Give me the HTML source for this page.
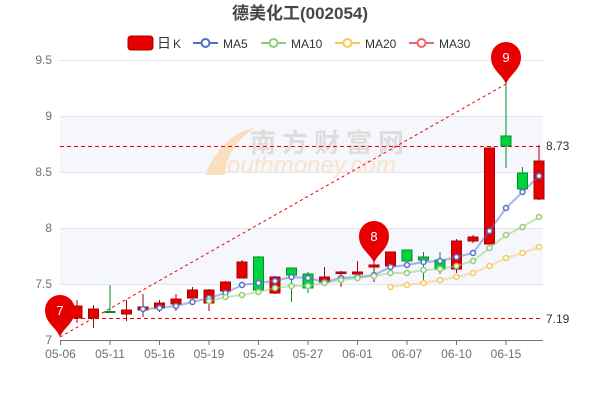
<!DOCTYPE html>
<html><head><meta charset="utf-8"><style>body{margin:0;background:#fff}svg{display:block;font-family:"Liberation Sans","Noto Sans CJK SC",sans-serif}</style></head><body>
<svg width="600" height="400" viewBox="0 0 600 400">
<rect x="60" y="116" width="483" height="56" fill="#f5f7fc"/>
<rect x="60" y="228" width="483" height="56" fill="#f5f7fc"/>
<g stroke="#e0e6f1" stroke-width="1">
<line x1="60" x2="543" y1="60.5" y2="60.5"/><line x1="60" x2="543" y1="116.5" y2="116.5"/><line x1="60" x2="543" y1="172.5" y2="172.5"/><line x1="60" x2="543" y1="228.5" y2="228.5"/><line x1="60" x2="543" y1="284.5" y2="284.5"/>
</g>
<line x1="60" x2="543" y1="340.5" y2="340.5" stroke="#6e7079"/>
<g stroke="#6e7079"><line x1="60.5" x2="60.5" y1="340" y2="345"/><line x1="110" x2="110" y1="340" y2="345"/><line x1="159.5" x2="159.5" y1="340" y2="345"/><line x1="209" x2="209" y1="340" y2="345"/><line x1="258.5" x2="258.5" y1="340" y2="345"/><line x1="308" x2="308" y1="340" y2="345"/><line x1="357.5" x2="357.5" y1="340" y2="345"/><line x1="407" x2="407" y1="340" y2="345"/><line x1="456.5" x2="456.5" y1="340" y2="345"/><line x1="506" x2="506" y1="340" y2="345"/></g>
<g fill="#6e7079" font-size="12" text-anchor="end"><text x="52" y="64">9.5</text><text x="52" y="120">9</text><text x="52" y="176">8.5</text><text x="52" y="232">8</text><text x="52" y="288">7.5</text><text x="52" y="344">7</text></g>
<g fill="#6e7079" font-size="12" text-anchor="middle"><text x="60.5" y="358">05-06</text><text x="110" y="358">05-11</text><text x="159.5" y="358">05-16</text><text x="209" y="358">05-19</text><text x="258.5" y="358">05-24</text><text x="308" y="358">05-27</text><text x="357.5" y="358">06-01</text><text x="407" y="358">06-07</text><text x="456.5" y="358">06-10</text><text x="506" y="358">06-15</text></g>
<!-- watermark -->
<text x="250" y="152" font-size="26" fill="#ddd" font-weight="bold" letter-spacing="6">南方财富网</text>
<text x="215" y="173" font-size="24" fill="#f8e4cc" font-style="italic">southmoney.com</text>
<path d="M205,175 C215,150 235,130 255,128 C235,140 225,160 225,175 Z" fill="#f9dfc0"/>
<!-- dashed lines -->
<line x1="60" x2="543" y1="146.5" y2="146.5" stroke="#e00" stroke-dasharray="4,3"/>
<line x1="60" x2="543" y1="318.5" y2="318.5" stroke="#e00" stroke-dasharray="4,3"/>
<line x1="60" y1="337" x2="506" y2="84" stroke="#e00" stroke-dasharray="3,3"/>
<text x="546" y="150" font-size="12" fill="#333">8.73</text>
<text x="546" y="323" font-size="12" fill="#333">7.19</text>
<!-- candles -->
<g stroke-width="1">
<g stroke="#a00" fill="#e60000">
<line x1="60.5" x2="60.5" y1="300" y2="322"/><rect x="55.5" y="307" width="10" height="11"/>
<line x1="77" x2="77" y1="300" y2="323"/><rect x="72" y="306" width="10" height="12"/>
<line x1="93.5" x2="93.5" y1="305" y2="328"/><rect x="88.5" y="309" width="10" height="9"/>
<line x1="126.5" x2="126.5" y1="300" y2="321"/><rect x="121.5" y="310" width="10" height="4"/>
<line x1="143" x2="143" y1="294" y2="317"/><rect x="138" y="307" width="10" height="3"/>
<line x1="159.5" x2="159.5" y1="300" y2="312"/><rect x="154.5" y="303" width="10" height="5"/>
<line x1="176" x2="176" y1="294" y2="311"/><rect x="171" y="299" width="10" height="5"/>
<line x1="192.5" x2="192.5" y1="287" y2="298"/><rect x="187.5" y="290" width="10" height="8"/>
<line x1="209" x2="209" y1="289" y2="311"/><rect x="204" y="290" width="10" height="13"/>
<line x1="225.5" x2="225.5" y1="281" y2="291"/><rect x="220.5" y="282" width="10" height="9"/>
<line x1="242" x2="242" y1="260" y2="278"/><rect x="237" y="262" width="10" height="16"/>
<line x1="275" x2="275" y1="276" y2="294"/><rect x="270" y="277" width="10" height="16"/>
<line x1="324.5" x2="324.5" y1="267" y2="282"/><rect x="319.5" y="277" width="10" height="5"/>
<line x1="341" x2="341" y1="271" y2="287"/><rect x="336" y="272" width="10" height="1.5"/>
<line x1="357.5" x2="357.5" y1="261" y2="274"/><rect x="352.5" y="272" width="10" height="2"/>
<line x1="374" x2="374" y1="261" y2="282"/><rect x="369" y="265" width="10" height="2"/>
<rect x="385.5" y="252" width="10" height="14"/>
<line x1="456.5" x2="456.5" y1="239" y2="273"/><rect x="451.5" y="241" width="10" height="28"/>
<line x1="473" x2="473" y1="235" y2="243"/><rect x="468" y="237" width="10" height="4"/>
<rect x="484.5" y="148" width="10" height="96"/>
<line x1="539" x2="539" y1="145" y2="200"/><rect x="534" y="161" width="10" height="38"/>
</g>
<g stroke="#008f28" fill="#00d43c">
<line x1="110" x2="110" y1="285" y2="312"/><rect x="105" y="311.5" width="10" height="1"/>
<line x1="258.5" x2="258.5" y1="256" y2="291"/><rect x="253.5" y="257" width="10" height="33"/>
<line x1="291.5" x2="291.5" y1="268" y2="302"/><rect x="286.5" y="268" width="10" height="7"/>
<line x1="308" x2="308" y1="272" y2="293"/><rect x="303" y="274" width="10" height="14"/>
<rect x="402" y="250" width="10" height="11"/>
<line x1="423.5" x2="423.5" y1="252" y2="280"/><rect x="418.5" y="257" width="10" height="3"/>
<line x1="440" x2="440" y1="252" y2="274"/><rect x="435" y="260" width="10" height="9"/>
<line x1="506" x2="506" y1="83" y2="168"/><rect x="501" y="136" width="10" height="10"/>
<line x1="522.5" x2="522.5" y1="167" y2="189"/><rect x="517.5" y="173" width="10" height="16"/>
</g></g>
<!-- MA lines -->
<g fill="none" stroke-width="2" stroke-opacity="0.5" stroke-linejoin="round">
<polyline stroke="#5470c6" points="143,309 159.5,308 176,306 192.5,302 209,298 225.5,293 242,285 258.5,283 275,281 291.5,277 308,278 324.5,282 341,278 357.5,277 374,275 390.5,267 407,265 423.5,262 440,261 456.5,257 473,253 489.5,231 506,208 522.5,192 539,176"/>
<polyline stroke="#91cc75" points="209,301 225.5,297 242,295 258.5,292 275,288 291.5,286 308,286 324.5,283 341,280 357.5,278 374,276 390.5,273 407,273 423.5,270 440,269 456.5,266 473,261 489.5,248 506,235 522.5,227 539,217"/>
<polyline stroke="#fac858" points="390.5,287 407,285 423.5,283 440,280 456.5,277 473,273 489.5,266 506,258 522.5,253 539,247"/>
</g>
<g fill="#fff" stroke-width="1.5">
<g stroke="#5470c6"><circle cx="143" cy="309" r="2.5"/><circle cx="159.5" cy="308" r="2.5"/><circle cx="176" cy="306" r="2.5"/><circle cx="192.5" cy="302" r="2.5"/><circle cx="209" cy="298" r="2.5"/><circle cx="225.5" cy="293" r="2.5"/><circle cx="242" cy="285" r="2.5"/><circle cx="258.5" cy="283" r="2.5"/><circle cx="275" cy="281" r="2.5"/><circle cx="291.5" cy="277" r="2.5"/><circle cx="308" cy="278" r="2.5"/><circle cx="324.5" cy="282" r="2.5"/><circle cx="341" cy="278" r="2.5"/><circle cx="357.5" cy="277" r="2.5"/><circle cx="374" cy="275" r="2.5"/><circle cx="390.5" cy="267" r="2.5"/><circle cx="407" cy="265" r="2.5"/><circle cx="423.5" cy="262" r="2.5"/><circle cx="440" cy="261" r="2.5"/><circle cx="456.5" cy="257" r="2.5"/><circle cx="473" cy="253" r="2.5"/><circle cx="489.5" cy="231" r="2.5"/><circle cx="506" cy="208" r="2.5"/><circle cx="522.5" cy="192" r="2.5"/><circle cx="539" cy="176" r="2.5"/></g>
<g stroke="#91cc75"><circle cx="209" cy="301" r="2.5"/><circle cx="225.5" cy="297" r="2.5"/><circle cx="242" cy="295" r="2.5"/><circle cx="258.5" cy="292" r="2.5"/><circle cx="275" cy="288" r="2.5"/><circle cx="291.5" cy="286" r="2.5"/><circle cx="308" cy="286" r="2.5"/><circle cx="324.5" cy="283" r="2.5"/><circle cx="341" cy="280" r="2.5"/><circle cx="357.5" cy="278" r="2.5"/><circle cx="374" cy="276" r="2.5"/><circle cx="390.5" cy="273" r="2.5"/><circle cx="407" cy="273" r="2.5"/><circle cx="423.5" cy="270" r="2.5"/><circle cx="440" cy="269" r="2.5"/><circle cx="456.5" cy="266" r="2.5"/><circle cx="473" cy="261" r="2.5"/><circle cx="489.5" cy="248" r="2.5"/><circle cx="506" cy="235" r="2.5"/><circle cx="522.5" cy="227" r="2.5"/><circle cx="539" cy="217" r="2.5"/></g>
<g stroke="#fac858"><circle cx="390.5" cy="287" r="2.5"/><circle cx="407" cy="285" r="2.5"/><circle cx="423.5" cy="283" r="2.5"/><circle cx="440" cy="280" r="2.5"/><circle cx="456.5" cy="277" r="2.5"/><circle cx="473" cy="273" r="2.5"/><circle cx="489.5" cy="266" r="2.5"/><circle cx="506" cy="258" r="2.5"/><circle cx="522.5" cy="253" r="2.5"/><circle cx="539" cy="247" r="2.5"/></g>
</g>
<!-- pins -->
<g fill="#e60000">
<path transform="translate(60,337)" d="M0,0 C-4,-10 -15,-14 -15,-27 A15,15 0 1 1 15,-27 C15,-14 4,-10 0,0 Z"/>
<path transform="translate(374,263)" d="M0,0 C-4,-10 -15,-14 -15,-27 A15,15 0 1 1 15,-27 C15,-14 4,-10 0,0 Z"/>
<path transform="translate(506,84)" d="M0,0 C-4,-10 -15,-14 -15,-27 A15,15 0 1 1 15,-27 C15,-14 4,-10 0,0 Z"/>
</g>
<g fill="#fff" font-size="13" text-anchor="middle"><text x="60" y="315">7</text><text x="374" y="241">8</text><text x="506" y="62">9</text></g>
<!-- title -->
<text x="300" y="19" font-size="17" font-weight="bold" fill="#464646" text-anchor="middle">德美化工(002054)</text>
<!-- legend -->
<g font-size="12" fill="#333">
<rect x="128" y="36" width="25" height="14" rx="3" fill="#e60000" stroke="#a00"/>
<text x="157" y="48" font-size="14">日</text><text x="173" y="48">K</text>
<line x1="193" x2="218" y1="43" y2="43" stroke="#5470c6" stroke-width="2"/><circle cx="205.5" cy="43" r="4" fill="#fff" stroke="#5470c6" stroke-width="2"/><text x="223" y="48">MA5</text>
<line x1="261" x2="286" y1="43" y2="43" stroke="#91cc75" stroke-width="2"/><circle cx="273.5" cy="43" r="4" fill="#fff" stroke="#91cc75" stroke-width="2"/><text x="291" y="48">MA10</text>
<line x1="335" x2="360" y1="43" y2="43" stroke="#fac858" stroke-width="2"/><circle cx="347.5" cy="43" r="4" fill="#fff" stroke="#fac858" stroke-width="2"/><text x="365" y="48">MA20</text>
<line x1="409" x2="434" y1="43" y2="43" stroke="#ee6666" stroke-width="2"/><circle cx="421.5" cy="43" r="4" fill="#fff" stroke="#ee6666" stroke-width="2"/><text x="439" y="48">MA30</text>
</g>
</svg>
</body></html>
